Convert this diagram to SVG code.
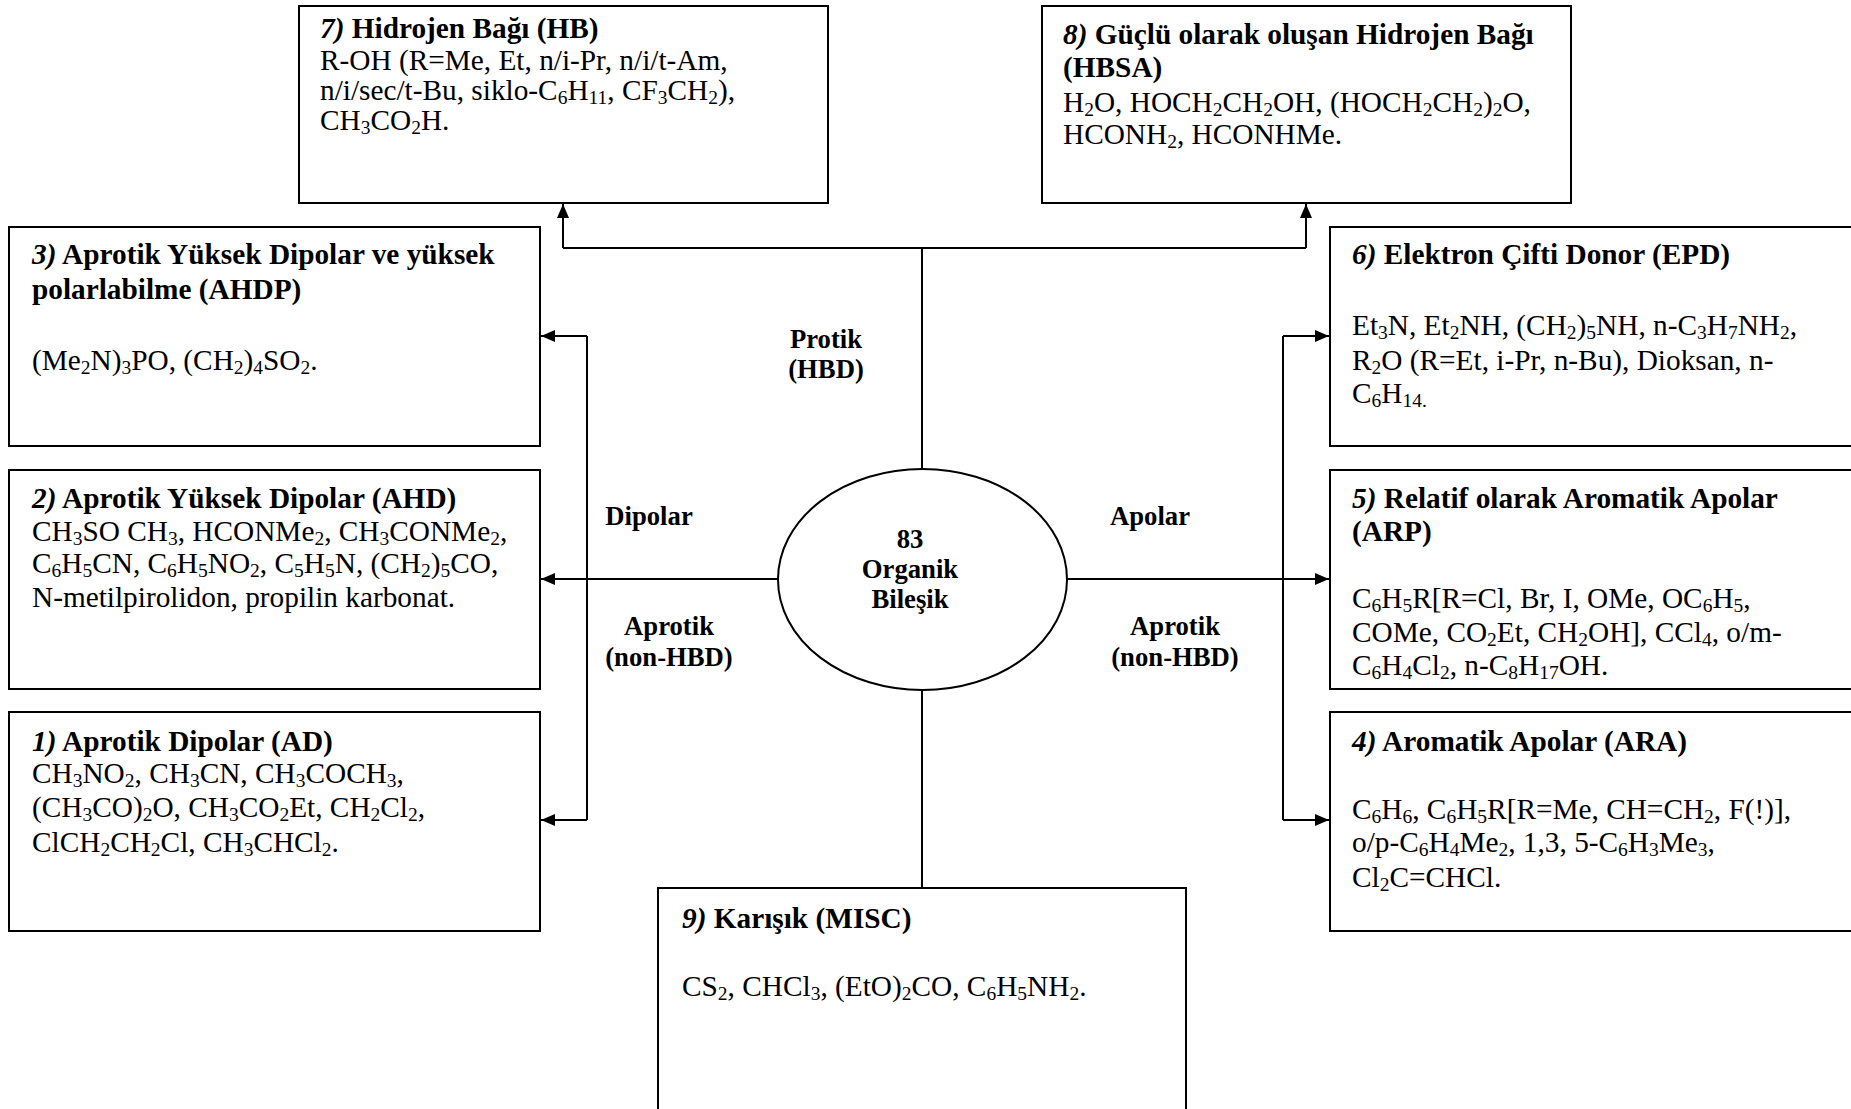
<svg xmlns="http://www.w3.org/2000/svg" width="1851" height="1109" viewBox="0 0 1851 1109">
<style>
text{font-family:"Liberation Serif","Times New Roman",serif;fill:#000}
.t{font-size:29.3px}
.b{font-weight:bold}
.i{font-style:italic}
.s{font-size:19.5px;baseline-shift:-4px}
.lab{font-size:26.7px;font-weight:bold;text-anchor:middle}
.box{fill:#fff;stroke:#000;stroke-width:2}
.con{fill:none;stroke:#000;stroke-width:2}
</style>
<defs>
<marker id="ah" markerUnits="userSpaceOnUse" markerWidth="14" markerHeight="12" refX="14" refY="6" orient="auto">
<path d="M0,0 L14,6 L0,12 z" fill="#000"/>
</marker>
</defs>
<rect width="1851" height="1109" fill="#fff"/>

<g id="connectors">
<path class="con" d="M922,469 V248 M563,248 H1306"/>
<path class="con" d="M563,248 V204" marker-end="url(#ah)"/>
<path class="con" d="M1306,248 V204" marker-end="url(#ah)"/>
<path class="con" d="M922,690 V888"/>
<path class="con" d="M778,579 H541" marker-end="url(#ah)"/>
<path class="con" d="M587,336 V820"/>
<path class="con" d="M587,336 H541" marker-end="url(#ah)"/>
<path class="con" d="M587,820 H541" marker-end="url(#ah)"/>
<path class="con" d="M1067,579 H1329" marker-end="url(#ah)"/>
<path class="con" d="M1283,336 V820"/>
<path class="con" d="M1283,336 H1329" marker-end="url(#ah)"/>
<path class="con" d="M1283,820 H1329" marker-end="url(#ah)"/>
<text class="lab" x="826" y="348">Protik</text>
<text class="lab" x="826" y="378">(HBD)</text>
<text class="lab" x="649" y="525">Dipolar</text>
<text class="lab" x="1150" y="525">Apolar</text>
<text class="lab" x="669" y="635">Aprotik</text>
<text class="lab" x="669" y="666">(non-HBD)</text>
<text class="lab" x="1175" y="635">Aprotik</text>
<text class="lab" x="1175" y="666">(non-HBD)</text>
</g>

<g id="center">
<ellipse cx="922.5" cy="579.5" rx="144.5" ry="110.5" fill="#fff" stroke="#000" stroke-width="2"/>
<text class="lab" x="910" y="548">83</text>
<text class="lab" x="910" y="578">Organik</text>
<text class="lab" x="910" y="608">Bileşik</text>
</g>

<g id="n7">
<rect class="box" x="299" y="6" width="529" height="197"/>
<text class="t b" x="320" y="38"><tspan class="i">7)</tspan> Hidrojen Bağı (HB)</text>
<text class="t" x="320" y="70">R-OH (R=Me, Et, n/i-Pr, n/i/t-Am,</text>
<text class="t" x="320" y="100">n/i/sec/t-Bu, siklo-C<tspan class="s">6</tspan>H<tspan class="s">11</tspan>, CF<tspan class="s">3</tspan>CH<tspan class="s">2</tspan>),</text>
<text class="t" x="320" y="130">CH<tspan class="s">3</tspan>CO<tspan class="s">2</tspan>H.</text>
</g>

<g id="n8">
<rect class="box" x="1042" y="6" width="529" height="197"/>
<text class="t b" x="1063" y="44"><tspan class="i">8)</tspan> Güçlü olarak oluşan Hidrojen Bağı</text>
<text class="t b" x="1063" y="77">(HBSA)</text>
<text class="t" x="1063" y="112">H<tspan class="s">2</tspan>O, HOCH<tspan class="s">2</tspan>CH<tspan class="s">2</tspan>OH, (HOCH<tspan class="s">2</tspan>CH<tspan class="s">2</tspan>)<tspan class="s">2</tspan>O,</text>
<text class="t" x="1063" y="144">HCONH<tspan class="s">2</tspan>, HCONHMe.</text>
</g>

<g id="n3">
<rect class="box" x="9" y="227" width="531" height="219"/>
<text class="t b" x="32" y="264"><tspan class="i">3)</tspan> Aprotik Yüksek Dipolar ve yüksek</text>
<text class="t b" x="32" y="299">polarlabilme (AHDP)</text>
<text class="t" x="32" y="370">(Me<tspan class="s">2</tspan>N)<tspan class="s">3</tspan>PO, (CH<tspan class="s">2</tspan>)<tspan class="s">4</tspan>SO<tspan class="s">2</tspan>.</text>
</g>

<g id="n2">
<rect class="box" x="9" y="470" width="531" height="219"/>
<text class="t b" x="32" y="508"><tspan class="i">2)</tspan> Aprotik Yüksek Dipolar (AHD)</text>
<text class="t" x="32" y="541">CH<tspan class="s">3</tspan>SO CH<tspan class="s">3</tspan>, HCONMe<tspan class="s">2</tspan>, CH<tspan class="s">3</tspan>CONMe<tspan class="s">2</tspan>,</text>
<text class="t" x="32" y="573">C<tspan class="s">6</tspan>H<tspan class="s">5</tspan>CN, C<tspan class="s">6</tspan>H<tspan class="s">5</tspan>NO<tspan class="s">2</tspan>, C<tspan class="s">5</tspan>H<tspan class="s">5</tspan>N, (CH<tspan class="s">2</tspan>)<tspan class="s">5</tspan>CO,</text>
<text class="t" x="32" y="607">N-metilpirolidon, propilin karbonat.</text>
</g>

<g id="n1">
<rect class="box" x="9" y="712" width="531" height="219"/>
<text class="t b" x="32" y="751"><tspan class="i">1)</tspan> Aprotik Dipolar (AD)</text>
<text class="t" x="32" y="783">CH<tspan class="s">3</tspan>NO<tspan class="s">2</tspan>, CH<tspan class="s">3</tspan>CN, CH<tspan class="s">3</tspan>COCH<tspan class="s">3</tspan>,</text>
<text class="t" x="32" y="817">(CH<tspan class="s">3</tspan>CO)<tspan class="s">2</tspan>O, CH<tspan class="s">3</tspan>CO<tspan class="s">2</tspan>Et, CH<tspan class="s">2</tspan>Cl<tspan class="s">2</tspan>,</text>
<text class="t" x="32" y="852">ClCH<tspan class="s">2</tspan>CH<tspan class="s">2</tspan>Cl, CH<tspan class="s">3</tspan>CHCl<tspan class="s">2</tspan>.</text>
</g>

<g id="n6">
<rect class="box" x="1330" y="227" width="560" height="219"/>
<text class="t b" x="1352" y="264"><tspan class="i">6)</tspan> Elektron Çifti Donor (EPD)</text>
<text class="t" x="1352" y="335">Et<tspan class="s">3</tspan>N, Et<tspan class="s">2</tspan>NH, (CH<tspan class="s">2</tspan>)<tspan class="s">5</tspan>NH, n-C<tspan class="s">3</tspan>H<tspan class="s">7</tspan>NH<tspan class="s">2</tspan>,</text>
<text class="t" x="1352" y="370">R<tspan class="s">2</tspan>O (R=Et, i-Pr, n-Bu), Dioksan, n-</text>
<text class="t" x="1352" y="403">C<tspan class="s">6</tspan>H<tspan class="s">14.</tspan></text>
</g>

<g id="n5">
<rect class="box" x="1330" y="470" width="560" height="219"/>
<text class="t b" x="1352" y="508"><tspan class="i">5)</tspan> Relatif olarak Aromatik Apolar</text>
<text class="t b" x="1352" y="541">(ARP)</text>
<text class="t" x="1352" y="608">C<tspan class="s">6</tspan>H<tspan class="s">5</tspan>R[R=Cl, Br, I, OMe, OC<tspan class="s">6</tspan>H<tspan class="s">5</tspan>,</text>
<text class="t" x="1352" y="642">COMe, CO<tspan class="s">2</tspan>Et, CH<tspan class="s">2</tspan>OH], CCl<tspan class="s">4</tspan>, o/m-</text>
<text class="t" x="1352" y="675">C<tspan class="s">6</tspan>H<tspan class="s">4</tspan>Cl<tspan class="s">2</tspan>, n-C<tspan class="s">8</tspan>H<tspan class="s">17</tspan>OH.</text>
</g>

<g id="n4">
<rect class="box" x="1330" y="712" width="560" height="219"/>
<text class="t b" x="1352" y="751"><tspan class="i">4)</tspan> Aromatik Apolar (ARA)</text>
<text class="t" x="1352" y="819">C<tspan class="s">6</tspan>H<tspan class="s">6</tspan>, C<tspan class="s">6</tspan>H<tspan class="s">5</tspan>R[R=Me, CH=CH<tspan class="s">2</tspan>, F(!)],</text>
<text class="t" x="1352" y="852">o/p-C<tspan class="s">6</tspan>H<tspan class="s">4</tspan>Me<tspan class="s">2</tspan>, 1,3, 5-C<tspan class="s">6</tspan>H<tspan class="s">3</tspan>Me<tspan class="s">3</tspan>,</text>
<text class="t" x="1352" y="887">Cl<tspan class="s">2</tspan>C=CHCl.</text>
</g>

<g id="n9">
<rect class="box" x="658" y="888" width="528" height="260"/>
<text class="t b" x="682" y="928"><tspan class="i">9)</tspan> Karışık (MISC)</text>
<text class="t" x="682" y="996">CS<tspan class="s">2</tspan>, CHCl<tspan class="s">3</tspan>, (EtO)<tspan class="s">2</tspan>CO, C<tspan class="s">6</tspan>H<tspan class="s">5</tspan>NH<tspan class="s">2</tspan>.</text>
</g>
</svg>
